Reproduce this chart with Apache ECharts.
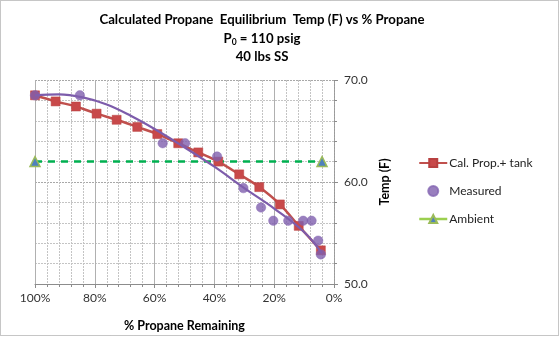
<!DOCTYPE html>
<html>
<head>
<meta charset="utf-8">
<script src="https://cdn.jsdelivr.net/npm/echarts@6/dist/echarts.min.js"></script>
<style>html,body{margin:0;padding:0;background:#fff}#c{width:560px;height:337px}</style>
</head>
<body>
<div id="c"></div>
<script>
// Data
const pctCalc  = [100, 93.1, 86.3, 79.4, 72.7, 65.8, 59.1, 52.1, 45.4, 38.7, 31.7, 25.0, 18.1, 11.8, 4.4];
const tempCalc = [68.5, 67.9, 67.4, 66.7, 66.1, 65.4, 64.7, 63.8, 62.9, 62.0, 60.75, 59.5, 57.8, 55.7, 53.3];
const pctMeas  = [100, 85, 57.3, 49.8, 39.1, 30.3, 24.4, 20.3, 15.3, 10.3, 7.5, 5.3, 4.4];
const tempMeas = [68.5, 68.5, 63.8, 63.8, 62.5, 59.4, 57.5, 56.2, 56.2, 56.2, 56.2, 54.25, 52.9];
const pctTrend  = [100, 92, 84, 76, 68, 60, 50, 40, 30, 20, 10, 4];
const tempTrend = [68.5, 68.6, 68.3, 67.6, 66.5, 65.2, 63.4, 61.5, 59.4, 57.4, 55.1, 53.0];
const pctAmb  = [100, 4];
const tempAmb = [62, 62];
const xTicks = [0, 20, 40, 60, 80, 100];
const yTicks = [50, 60, 70];
const seriesNames = ['Cal. Prop.+ tank', 'Measured', 'Ambient'];

const zip = (a, b) => a.map((v, i) => [v, b[i]]);
const font = 'Lato, "Liberation Sans", sans-serif';

const chart = echarts.init(document.getElementById('c'), null, {renderer: 'canvas'});
chart.setOption({
  animation: false,
  backgroundColor: '#fff',
  textStyle: {fontFamily: font},
  graphic: [
    {type: 'rect', shape: {x: 0.5, y: 0.5, width: 558, height: 335},
     style: {fill: 'none', stroke: '#8c8c8c', lineWidth: 1, lineDash: [1, 1]}, silent: true},
    {type: 'text', x: 262, y: 20, style: {text: 'Calculated Propane  Equilibrium  Temp (F) vs % Propane',
      font: 'bold 13.2px ' + font, fill: '#000', textAlign: 'center', textVerticalAlign: 'middle'}},
    {type: 'text', x: 262, y: 39, style: {
      text: '{a|P}{s|0}{a| = 110 psig}', textAlign: 'center', textVerticalAlign: 'middle',
      rich: {a: {font: 'bold 13.2px ' + font, fill: '#000'},
             s: {font: 'bold 8.5px ' + font, fill: '#000', padding: [6, 0, 0, 0]}}}},
    {type: 'text', x: 262, y: 57, style: {text: '40 lbs SS',
      font: 'bold 13.2px ' + font, fill: '#000', textAlign: 'center', textVerticalAlign: 'middle'}}
  ],
  grid: {left: 35, right: 226, top: 80, bottom: 53, containLabel: false},
  legend: {
    orient: 'vertical', left: 413, top: 152, itemGap: 16, itemWidth: 28, itemHeight: 10,
    data: [
      {name: seriesNames[0]},
      {name: seriesNames[1]},
      {name: seriesNames[2], lineStyle: {type: 'solid', color: '#9bcf4f', width: 2.5}}
    ],
    textStyle: {fontFamily: font, fontSize: 12, color: '#222', padding: [0, 0, 0, -3]}
  },
  xAxis: {
    type: 'value', inverse: true, min: 0, max: 100, interval: 20,
    name: '% Propane Remaining', nameLocation: 'middle', nameGap: 35,
    nameTextStyle: {fontFamily: font, fontWeight: 'bold', fontSize: 12.5, color: '#000'},
    axisLine: {show: true, lineStyle: {color: '#8c8c8c', width: 1}},
    axisTick: {show: true, length: 4, inside: false, lineStyle: {color: '#8c8c8c'}},
    minorTick: {show: true, splitNumber: 5, length: 3, lineStyle: {color: '#8c8c8c'}},
    axisLabel: {formatter: v => xTicks.includes(v) ? v + '%' : '', fontSize: 12, color: '#333', margin: 8, fontFamily: font},
    splitLine: {show: true, lineStyle: {color: '#b0b0b0', width: 1}},
    minorSplitLine: {show: true, lineStyle: {color: '#c4c4c4', width: 1, type: [2, 1]}}
  },
  yAxis: {
    type: 'value', position: 'right', min: 50, max: 70, interval: 10,
    name: 'Temp (F)', nameLocation: 'middle', nameGap: 44, nameRotate: 90,
    nameTextStyle: {fontFamily: font, fontWeight: 'bold', fontSize: 12.5, color: '#000'},
    axisLine: {show: true, lineStyle: {color: '#9a9a9a', width: 1, type: [2, 1]}},
    axisTick: {show: true, length: 4, lineStyle: {color: '#8c8c8c'}},
    minorTick: {show: true, splitNumber: 5, length: 3, lineStyle: {color: '#8c8c8c'}},
    axisLabel: {formatter: v => yTicks.includes(v) ? v.toFixed(1) : '', fontSize: 12, color: '#333', margin: 10, fontFamily: font},
    splitLine: {show: true, lineStyle: {color: '#a8a8a8', width: 1, type: [2, 1]}},
    minorSplitLine: {show: true, lineStyle: {color: '#c4c4c4', width: 1, type: [2, 1]}}
  },
  series: [
    {
      name: seriesNames[0], type: 'line', data: zip(pctCalc, tempCalc), smooth: 0.35,
      symbol: 'rect', symbolSize: 9, z: 3,
      lineStyle: {color: '#c0504d', width: 2.5},
      itemStyle: {color: '#c8494a', borderColor: '#b84040', borderWidth: 0.5}
    },
    {
      name: 'trend', type: 'line', data: zip(pctTrend, tempTrend), smooth: 0.4,
      symbol: 'none', z: 4, silent: true,
      lineStyle: {color: '#7d5cab', width: 2.2}
    },
    {
      name: seriesNames[1], type: 'scatter', data: zip(pctMeas, tempMeas),
      symbol: 'circle', symbolSize: 9.5, z: 5,
      itemStyle: {color: '#7f5fae', borderColor: '#8466b3', borderWidth: 0.5}
    },
    {
      name: seriesNames[2], type: 'line', data: zip(pctAmb, tempAmb),
      symbol: 'triangle', symbolSize: 10, z: 2,
      lineStyle: {color: '#00b050', width: 2.5, type: [7, 6]},
      itemStyle: {color: '#4f81bd', borderColor: '#9bbb59', borderWidth: 1.5}
    }
  ]
});
</script>
</body>
</html>
